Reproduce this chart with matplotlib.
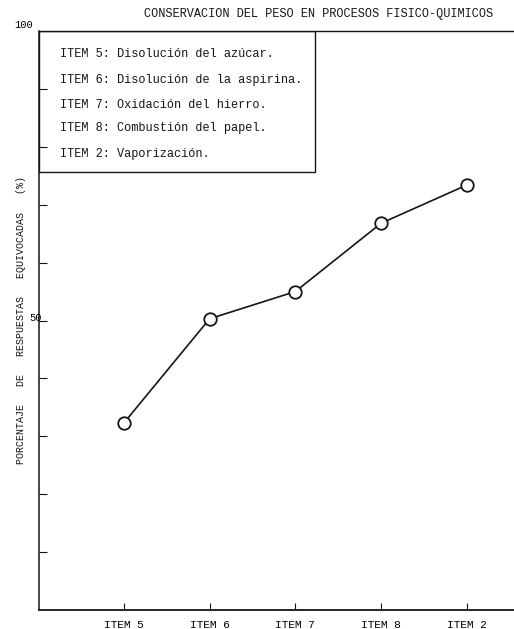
import matplotlib.pyplot as plt
from matplotlib.patches import Rectangle

# valores
items = ["ITEM 5", "ITEM 6", "ITEM 7", "ITEM 8", "ITEM 2"]
porcentaje = [32.3, 50.3, 55.0, 66.8, 73.4]
leyenda = ["ITEM 5: Disolución del azúcar.",
           "ITEM 6: Disolución de la aspirina.",
           "ITEM 7: Oxidación del hierro.",
           "ITEM 8: Combustión del papel.",
           "ITEM 2: Vaporización."]
yticks = [10, 20, 30, 40, 50, 60, 70, 80, 90]

mono = "Liberation Mono"
ink = "#151515"

fig = plt.figure(figsize=(5.14, 6.29), dpi=100)
ax = fig.add_axes([39 / 514, 1 - 610 / 629, 1 - 39 / 514, (610 - 31) / 629])

x = list(range(1, len(items) + 1))
ax.plot(x, porcentaje, color=ink, lw=1.2, marker="o", ms=9,
        mfc="white", mec=ink, mew=1.3, zorder=3)

ax.set_xlim(0.01, 5.55)
ax.set_ylim(0, 100)

for s in ["top", "right"]:
    ax.spines[s].set_visible(False)
ax.spines["left"].set_color(ink)
ax.spines["bottom"].set_color(ink)
ax.spines["left"].set_linewidth(1.1)
ax.spines["bottom"].set_linewidth(1.3)

ax.set_xticks(x)
ax.set_xticklabels(items, family=mono, fontsize=8)
ax.tick_params(axis="x", direction="in", length=5, pad=7, color=ink)
ax.set_yticks(yticks)
ax.set_yticklabels([])
ax.tick_params(axis="y", direction="in", length=6, color=ink)

# linea superior a 100
ax.axhline(100, color=ink, lw=1.0, clip_on=False)
ax.text(-0.012, 100.2, "100", family=mono, fontsize=7.5, ha="right", va="bottom",
        transform=ax.get_yaxis_transform())
ax.text(0.005, 50.4, "50", family=mono, fontsize=7.5, ha="right", va="center",
        transform=ax.get_yaxis_transform())

# caja de leyenda
box_right = 1 + (315 - 124) / 85.75
box_bottom = 75.6
ax.add_patch(Rectangle((0.01, box_bottom), box_right - 0.01, 100 - box_bottom,
                       fill=False, ec=ink, lw=1.0, zorder=2))
ly = [96.1, 91.6, 87.3, 83.2, 78.7]
for txt, yy in zip(leyenda, ly):
    ax.text(0.26, yy, txt, family=mono, fontsize=8.6, va="center", color=ink)

ax.set_ylabel("PORCENTAJE   DE   RESPUESTAS   EQUIVOCADAS   (%)",
              family=mono, fontsize=7.2, color=ink)
ax.yaxis.set_label_coords(-0.027, 0.5)

fig.text(0.96, 0.977, "CONSERVACION DEL PESO EN PROCESOS FISICO-QUIMICOS",
         family=mono, fontsize=8.6, ha="right", va="center", color=ink)

fig.savefig("out.png", dpi=100)
